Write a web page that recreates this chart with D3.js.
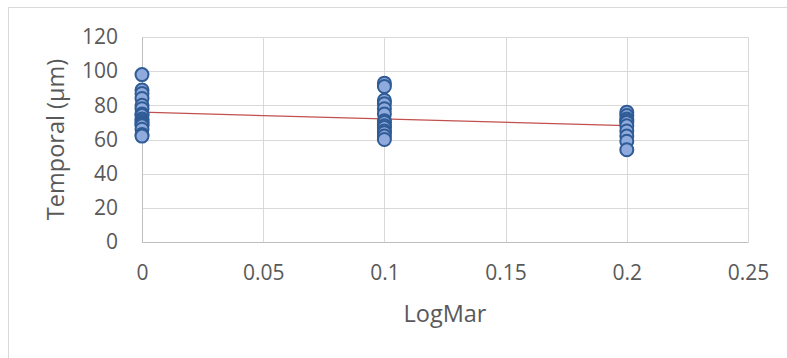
<!DOCTYPE html>
<html>
<head>
<meta charset="utf-8">
<script src="https://cdn.jsdelivr.net/npm/d3@7"></script>
<style>
  body { margin: 0; background: #fff; }
  text { font-family: "Open Sans", sans-serif; fill: #595959; }
</style>
</head>
<body>
<div id="chart"></div>
<script>
// LogMar groups and the Temporal values read at each one
let logmar = [0, 0.1, 0.2];
let temporal0 = [98, 89, 87, 84, 80, 78, 75, 74, 72, 71, 70, 69, 68, 66, 63, 62];
let temporal1 = [93, 91, 83, 81, 78, 75, 71, 70, 68, 67, 65, 64, 62, 60];
let temporal2 = [76, 74, 72, 71, 70, 68, 65, 62, 59, 54];

let xTicks = [0, 0.05, 0.1, 0.15, 0.2, 0.25];
let yTicks = [0, 20, 40, 60, 80, 100, 120];

let points = [];
[temporal0, temporal1, temporal2].forEach(function (vals, i) {
	vals.forEach(function (v) { points.push({ x: logmar[i], y: v }); });
});

let W = 787, H = 358;
let margin = { top: 37, right: 39, bottom: 116, left: 142 },
	width = W - margin.left - margin.right,
	height = H - margin.top - margin.bottom;

let root = d3.select("#chart").append("svg")
	.attr("width", W)
	.attr("height", H);

// outer chart frame
root.append("rect")
	.attr("x", 8.5).attr("y", 7.5)
	.attr("width", W).attr("height", H)
	.attr("fill", "none")
	.attr("stroke", "#d9d9d9");

let svg = root.append("g")
	.attr("transform", "translate(" + margin.left + "," + margin.top + ")");

let x = d3.scaleLinear().domain([0, 0.25]).range([0, width]);
let y = d3.scaleLinear().domain([0, 120]).range([height, 0]);

// gridlines
svg.append("g")
	.selectAll("line.h")
	.data(yTicks)
	.enter().append("line")
	.attr("x1", 0).attr("x2", width)
	.attr("y1", function (d) { return Math.round(y(d)) + 0.5; })
	.attr("y2", function (d) { return Math.round(y(d)) + 0.5; })
	.attr("stroke", "#d9d9d9");

svg.append("g")
	.selectAll("line.v")
	.data(xTicks)
	.enter().append("line")
	.attr("y1", 0).attr("y2", height)
	.attr("x1", function (d) { return Math.round(x(d)) + 0.5; })
	.attr("x2", function (d) { return Math.round(x(d)) + 0.5; })
	.attr("stroke", "#d9d9d9");

// axes
let yAxis = svg.append("g")
	.call(d3.axisLeft(y).tickValues(yTicks).tickSize(0).tickPadding(24));
yAxis.select(".domain").attr("stroke", "#bfbfbf");
yAxis.selectAll("text").style("font-size", "21px").attr("fill", "#595959");

let xAxis = svg.append("g")
	.attr("transform", "translate(0," + height + ")")
	.call(d3.axisBottom(x).tickValues(xTicks).tickSize(0).tickPadding(23)
		.tickFormat(function (d) { return String(+d.toFixed(2)); }));
xAxis.select(".domain").attr("stroke", "#bfbfbf");
xAxis.selectAll("text").style("font-size", "21px").attr("fill", "#595959");

// axis titles
svg.append("text")
	.attr("x", width / 2)
	.attr("y", height + 80)
	.attr("text-anchor", "middle")
	.style("font-size", "23.5px")
	.text("LogMar");

svg.append("text")
	.attr("transform", "rotate(-90)")
	.attr("x", -height / 2)
	.attr("y", -78)
	.attr("text-anchor", "middle")
	.style("font-size", "23.5px")
	.text("Temporal (µm)");

// linear trendline (least squares)
let mx = d3.mean(points, function (d) { return d.x; }),
	my = d3.mean(points, function (d) { return d.y; });
let sxy = d3.sum(points, function (d) { return (d.x - mx) * (d.y - my); }),
	sxx = d3.sum(points, function (d) { return (d.x - mx) * (d.x - mx); });
let slope = sxy / sxx, intercept = my - slope * mx;

svg.append("line")
	.attr("x1", x(0)).attr("x2", x(0.2))
	.attr("y1", y(intercept)).attr("y2", y(intercept + slope * 0.2))
	.attr("stroke", "#c0504d")
	.attr("stroke-width", 1.2);

// markers
svg.append("g")
	.selectAll("circle")
	.data(points)
	.enter().append("circle")
	.attr("cx", function (d) { return x(d.x); })
	.attr("cy", function (d) { return y(d.y); })
	.attr("r", 6.5)
	.attr("fill", "#8faadc")
	.attr("stroke", "#2f5b96")
	.attr("stroke-width", 2);
</script>
</body>
</html>
